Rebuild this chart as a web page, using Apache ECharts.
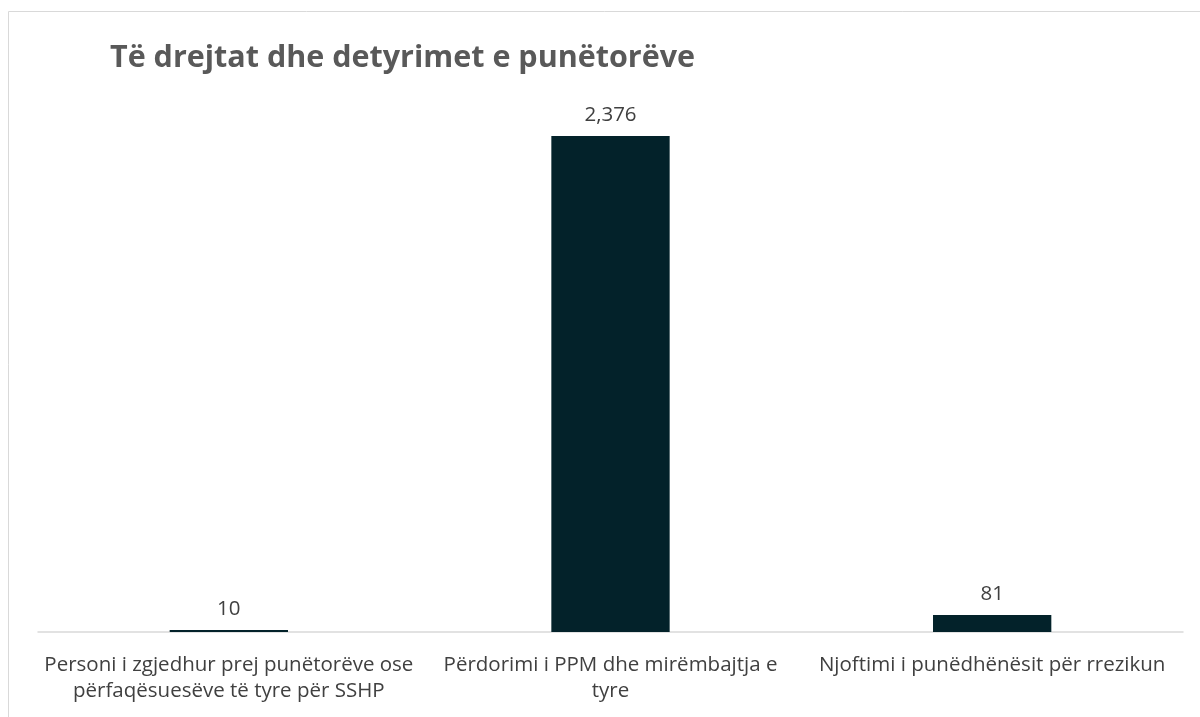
<!DOCTYPE html>
<html><head><meta charset="utf-8">
<script src="https://cdn.jsdelivr.net/npm/echarts@6/dist/echarts.min.js"></script>
<style>html,body{margin:0;padding:0;background:#fff}#c{width:1200px;height:717px}</style>
</head><body><div id="c"></div>
<script>
const titleText = 'Të drejtat dhe detyrimet e punëtorëve';
const categories = [
  'Personi i zgjedhur prej punëtorëve ose\npërfaqësuesëve të tyre për SSHP',
  'Përdorimi i PPM dhe mirëmbajtja e\ntyre',
  'Njoftimi i punëdhënësit për rrezikun'
];
const values = [10, 2376, 81];

const chart = echarts.init(document.getElementById('c'), null, {renderer: 'canvas'});
chart.setOption({
  animation: false,
  graphic: [{type: 'rect', shape: {x: 8.5, y: 11.5, width: 1200, height: 720}, style: {fill: 'none', stroke: '#d9d9d9', lineWidth: 1}}],
  title: {text: titleText, left: 105, top: 38, textStyle: {fontFamily: 'Open Sans', fontWeight: 'bold', fontSize: 30.5, color: '#595959'}},
  grid: {left: 38, right: 17, top: 110, bottom: 85, containLabel: false, outerBoundsMode: 'none'},
  xAxis: {type: 'category', data: categories,
    axisLine: {lineStyle: {color: '#d9d9d9', width: 1.5}}, axisTick: {show: false},
    axisLabel: {interval: 0, margin: 20, fontFamily: 'Open Sans', fontSize: 20.5, color: '#404040', lineHeight: 26}},
  yAxis: {type: 'value', min: 0, max: 2500, show: false, splitLine: {show: false}},
  series: [{type: 'bar', data: values, barWidth: '31%', itemStyle: {color: '#03222A'},
    label: {show: true, position: 'top', distance: 10, fontFamily: 'Open Sans', fontSize: 20.5, color: '#404040',
      formatter: p => p.value.toLocaleString('en-US')}}]
});
</script></body></html>
